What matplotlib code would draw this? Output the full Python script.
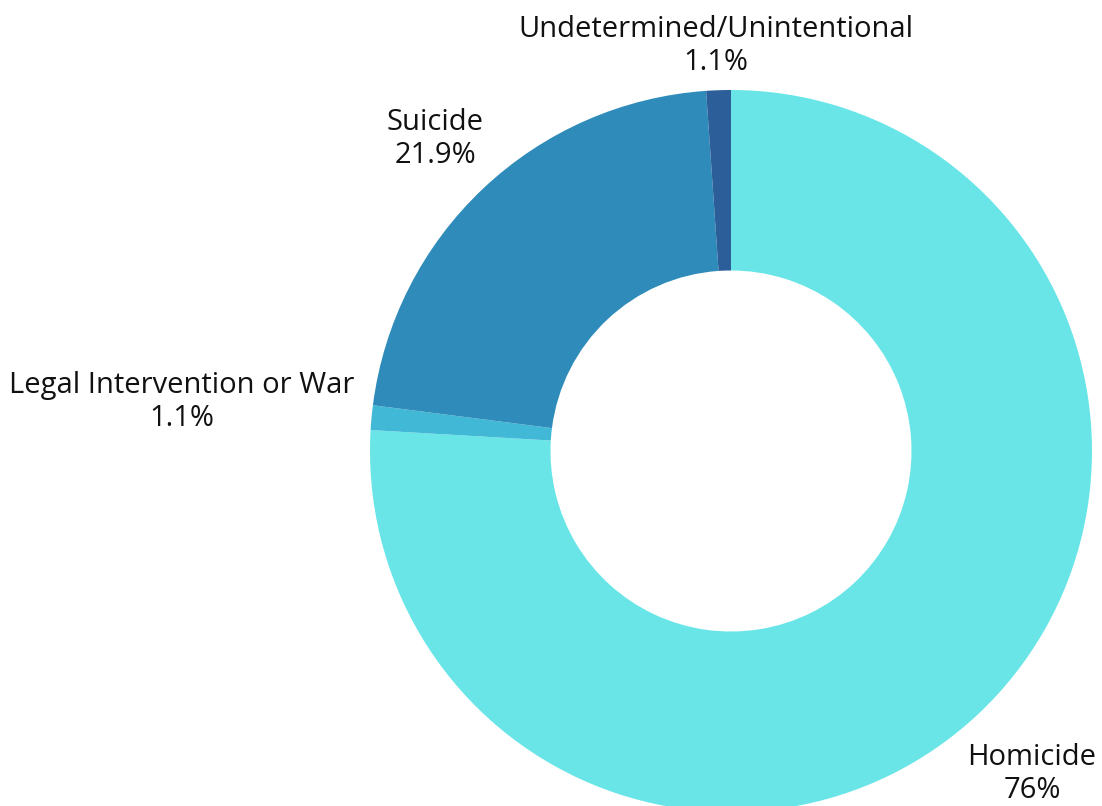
import matplotlib.pyplot as plt

# --- Data ---
categories = ["Homicide", "Legal Intervention or War", "Suicide", "Undetermined/Unintentional"]
shares = [76.0, 1.1, 21.9, 1.1]
share_labels = ["76%", "1.1%", "21.9%", "1.1%"]
colors = ["#69E5E8", "#40B8D6", "#2E8BBA", "#2C5F99"]

# label anchor points in pixel coords (x, y from top)
label_pos = [(1032, 774), (182, 402), (435, 139), (716, 46)]

W, H = 1102, 806
fig = plt.figure(figsize=(W / 100, H / 100), dpi=100)
ax = fig.add_axes([0, 0, 1, 1])
ax.set_xlim(0, W)
ax.set_ylim(0, H)
ax.set_aspect("equal")
ax.axis("off")

R = 361
ax.pie(shares, colors=colors, startangle=90, counterclock=False,
       center=(731, H - 451), radius=R, normalize=True,
       wedgeprops=dict(width=R * 0.5, linewidth=0))
ax.set_xlim(0, W)
ax.set_ylim(0, H)

for cat, lab, (px, py) in zip(categories, share_labels, label_pos):
    ax.text(px, H - py, f"{cat}\n{lab}", ha="center", va="center",
            fontsize=21, family="Open Sans", color="#111111", linespacing=1.22)

fig.savefig("out.png", dpi=100)
